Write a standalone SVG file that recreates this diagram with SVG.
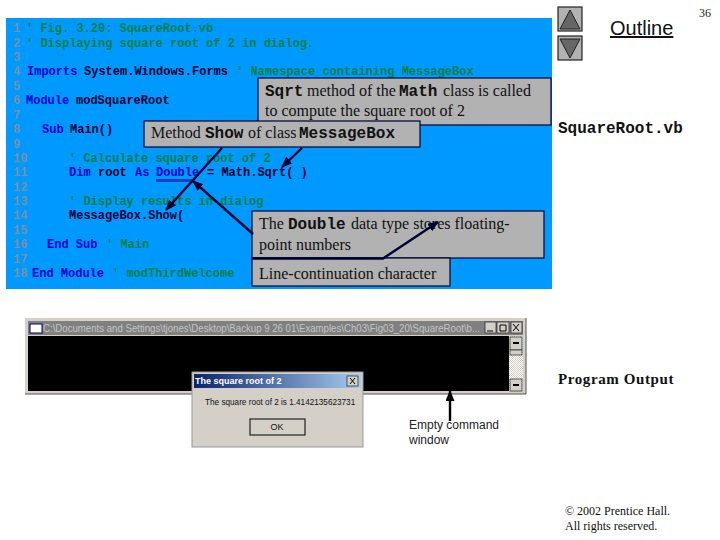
<svg xmlns="http://www.w3.org/2000/svg" width="720" height="540" viewBox="0 0 720 540">
<style>
.c{font-family:"Liberation Mono",monospace;font-size:12px;font-weight:bold;white-space:pre}
.n{fill:#7a8fa5}.g{fill:#00803f}.k{fill:#0000cc}.i{fill:#000033}
.box{fill:#b2b2b2;stroke:#000033;stroke-width:1.2}
.s{font-family:"Liberation Serif",serif;font-size:16px;fill:#111}
.m{font-family:"Liberation Mono",monospace;font-size:16px;font-weight:bold;fill:#111}
.a{stroke:#000033;stroke-width:2.4;fill:none;marker-end:url(#h)}
.u{font-family:"Liberation Sans",sans-serif}
.nav{fill:#b2b2b2;stroke:#222;stroke-width:1.2}
.tri{fill:#666;stroke:#222;stroke-width:1}
.btn{fill:#d4d0c8;stroke:#333;stroke-width:.8}
</style>
<defs>
<marker id="h" markerUnits="userSpaceOnUse" markerWidth="12" markerHeight="10" refX="10" refY="4.5" orient="auto"><path d="M0 0L11 4.5L0 9z" fill="#000033"/></marker>
<marker id="h2" markerUnits="userSpaceOnUse" markerWidth="12" markerHeight="10" refX="10" refY="4.5" orient="auto"><path d="M0 0L11 4.5L0 9z" fill="#000"/></marker>
<linearGradient id="tb" x1="0" x2="1" y1="0" y2="0"><stop offset="0" stop-color="#0a246a"/><stop offset="1" stop-color="#a6caf0"/></linearGradient>
<pattern id="dith" width="2" height="2" patternUnits="userSpaceOnUse"><rect width="2" height="2" fill="#fff"/><path d="M0 0h1v1H0zM1 1h1v1H1z" fill="#d4d0c8"/></pattern>
</defs>
<rect width="720" height="540" fill="#fff"/>
<g id="code-panel">
<rect x="6" y="18" width="546" height="271" fill="#0099ff"/>
<text class="c" y="32"><tspan class="n" x="13">1</tspan><tspan class="g" x="26">' Fig. 3.20: SquareRoot.vb</tspan></text>
<text class="c" y="47"><tspan class="n" x="13">2</tspan><tspan class="g" x="26">' Displaying square root of 2 in dialog.</tspan></text>
<text class="c n" x="13" y="61">3</text>
<text class="c" y="75"><tspan class="n" x="13">4</tspan><tspan class="k" x="27">Imports</tspan><tspan class="i" x="84">System.Windows.Forms</tspan><tspan class="g" x="236">' Namespace containing MessageBox</tspan></text>
<text class="c n" x="13" y="90">5</text>
<text class="c" y="104"><tspan class="n" x="13">6</tspan><tspan class="k" x="26">Module</tspan><tspan class="i" x="76">modSquareRoot</tspan></text>
<text class="c n" x="13" y="119">7</text>
<text class="c" y="133"><tspan class="n" x="13">8</tspan><tspan class="k" x="42">Sub</tspan><tspan class="i" x="70">Main()</tspan></text>
<text class="c n" x="13" y="148">9</text>
<text class="c" y="162"><tspan class="n" x="13">10</tspan><tspan class="g" x="69">' Calculate square root of 2</tspan></text>
<text class="c" y="176"><tspan class="n" x="13">11</tspan><tspan class="k" x="69">Dim</tspan><tspan class="i" x="98">root</tspan><tspan class="k" x="135">As</tspan><tspan class="k" x="156">Double</tspan><tspan class="i" x="207">= Math.Sqrt( )</tspan></text>
<text class="c n" x="13" y="191">12</text>
<text class="c" y="205"><tspan class="n" x="13">13</tspan><tspan class="g" x="69">' Display results in dialog</tspan></text>
<text class="c" y="219"><tspan class="n" x="13">14</tspan><tspan class="i" x="69">MessageBox.Show(</tspan></text>
<text class="c n" x="13" y="234">15</text>
<text class="c" y="248"><tspan class="n" x="13">16</tspan><tspan class="k" x="47">End Sub</tspan><tspan class="g" x="106">' Main</tspan></text>
<text class="c n" x="13" y="263">17</text>
<text class="c" y="277"><tspan class="n" x="13">18</tspan><tspan class="k" x="32">End Module</tspan><tspan class="g" x="112">' modThirdWelcome</tspan></text>
<rect x="156" y="179" width="37" height="3" fill="#1f3fc0"/>
</g>
<g id="callout-sqrt">
<rect class="box" x="258" y="78" width="293" height="47"/>
<text y="96"><tspan class="m" x="265">Sqrt</tspan><tspan class="s" x="307">method of the</tspan><tspan class="m" x="399">Math</tspan><tspan class="s" x="443">class is called</tspan></text>
<text class="s" x="265" y="116">to compute the square root of 2</text>
</g>
<g id="callout-show">
<rect class="box" x="144" y="121" width="276" height="26"/>
<text y="138"><tspan class="s" x="151">Method</tspan><tspan class="m" x="205">Show</tspan><tspan class="s" x="248">of class</tspan><tspan class="m" x="299">MessageBox</tspan></text>
</g>
<g id="callout-double">
<rect class="box" x="252" y="211" width="292" height="47"/>
<text y="229"><tspan class="s" x="259">The</tspan><tspan class="m" x="288">Double</tspan><tspan class="s" x="351">data type stores floating-</tspan></text>
<text class="s" x="259" y="250">point numbers</text>
</g>
<g id="callout-continuation">
<rect class="box" x="252" y="258" width="198" height="28"/>
<text class="s" x="259" y="279">Line-continuation character</text>
</g>
<g id="console-window">
<rect x="25" y="318" width="501" height="76" fill="#d4d0c8"/>
<rect x="28" y="321" width="495" height="14" fill="#808080"/>
<rect x="30" y="324" width="12" height="9" fill="#fff" stroke="#000066"/>
<text class="u" x="43" y="332" font-size="11" fill="#c4c4c4" textLength="437" lengthAdjust="spacingAndGlyphs">C:\Documents and Settings\tjones\Desktop\Backup 9 26 01\Examples\Ch03\Fig03_20\SquareRoot\b...</text>
<rect class="btn" x="485" y="322" width="11" height="11"/>
<rect class="btn" x="497" y="322" width="12" height="11"/>
<rect class="btn" x="511" y="322" width="11" height="11"/>
<path d="M487 331h6M500 325h6v6h-6zM513 324l6 7M519 324l-6 7" stroke="#000" fill="none"/>
<rect x="28" y="336" width="481" height="55" fill="#000"/>
<rect x="509" y="336" width="14" height="55" fill="url(#dith)"/>
<rect class="btn" x="510" y="337" width="12" height="13"/>
<rect class="btn" x="510" y="350" width="12" height="5"/>
<rect class="btn" x="510" y="379" width="12" height="12"/>
<path d="M513 343h6M513 385h6" stroke="#000" stroke-width="2"/>
<path d="M25 394H526V318" stroke="#555" fill="none"/>
</g>
<g id="dialog">
<rect x="192" y="372" width="171" height="75" fill="#d4d0c8" stroke="#999"/>
<rect x="194" y="374" width="167" height="14" fill="url(#tb)"/>
<text class="u" x="195" y="384" font-size="9" font-weight="bold" fill="#fff">The square root of 2</text>
<rect class="btn" x="347" y="376" width="11" height="10"/>
<path d="M350 378l5 6M355 378l-5 6" stroke="#000"/>
<text class="u" x="205" y="405" font-size="8.2" fill="#111">The square root of 2 is 1.4142135623731</text>
<rect x="250" y="419" width="55" height="16" fill="#d4d0c8" stroke="#222" stroke-width="1.2"/>
<text class="u" x="277" y="430" font-size="9" fill="#111" text-anchor="middle">OK</text>
</g>
<g id="connectors">
<path class="a" d="M222 148L166 210"/>
<path class="a" d="M302 148L282 167"/>
<path class="a" d="M253 234L193 181"/>
<path class="a" d="M252 258.500H383L438 222"/>
<path d="M450 421V391" stroke="#000" stroke-width="2.400" fill="none" marker-end="url(#h2)"/>
</g>
<g id="nav-up"><rect class="nav" x="558" y="7" width="24" height="24"/><path class="tri" d="M570 10L580 29H560z"/></g>
<g id="nav-down"><rect class="nav" x="558" y="36" width="24" height="24"/><path class="tri" d="M560 39H580L570 58z"/></g>
<g id="labels">
<text class="u" x="610" y="35" font-size="20" fill="#111" text-decoration="underline">Outline</text>
<text x="699" y="17" font-family="Liberation Serif,serif" font-size="12" fill="#222">36</text>
<text x="558" y="133" font-family="Liberation Mono,monospace" font-size="16" font-weight="bold" fill="#111">SquareRoot.vb</text>
<text x="558" y="384" font-family="Liberation Serif,serif" font-size="15" font-weight="bold" fill="#111" letter-spacing=".6">Program Output</text>
<text class="u" font-size="12" fill="#222"><tspan x="409" y="429">Empty command</tspan><tspan x="409" y="444">window</tspan></text>
<text font-family="Liberation Serif,serif" font-size="12" fill="#111"><tspan x="565" y="515">© 2002 Prentice Hall.</tspan><tspan x="565" y="530">All rights reserved.</tspan></text>
</g>
</svg>
